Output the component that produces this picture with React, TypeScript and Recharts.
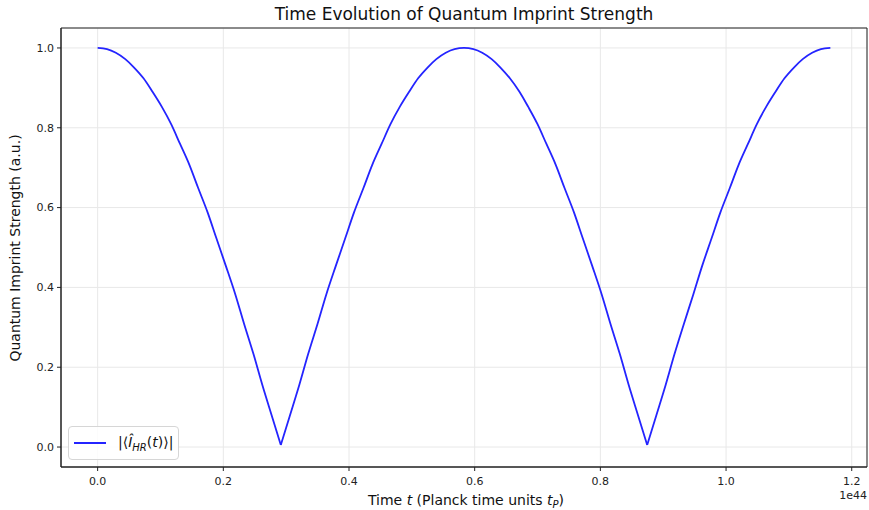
import {
  CartesianGrid,
  Line,
  LineChart,
  ReferenceArea,
  XAxis,
  YAxis,
} from 'recharts';

// time in units of 1e44 t_P
const times = [
  0, 0.015, 0.029, 0.044, 0.058, 0.073, 0.087, 0.102, 0.117, 0.131,
  0.146, 0.16, 0.175, 0.189, 0.204, 0.219, 0.233, 0.248, 0.262, 0.277,
  0.2915, 0.306, 0.321, 0.335, 0.35, 0.364, 0.379, 0.394, 0.408, 0.423,
  0.437, 0.452, 0.466, 0.481, 0.496, 0.51, 0.525, 0.539, 0.554, 0.568,
  0.583, 0.598, 0.612, 0.627, 0.641, 0.656, 0.671, 0.685, 0.7, 0.714,
  0.729, 0.743, 0.758, 0.772, 0.787, 0.802, 0.816, 0.831, 0.845, 0.86,
  0.8745, 0.889, 0.904, 0.918, 0.933, 0.948, 0.962, 0.977, 0.991, 1.006,
  1.02, 1.035, 1.049, 1.064, 1.079, 1.093, 1.108, 1.122, 1.137, 1.151,
  1.166,
];

const strength = [
  1.0, 0.997, 0.988, 0.972, 0.951, 0.924, 0.891, 0.853, 0.809, 0.76,
  0.707, 0.649, 0.588, 0.523, 0.454, 0.383, 0.309, 0.233, 0.156, 0.079,
  0.005, 0.079, 0.156, 0.233, 0.309, 0.383, 0.454, 0.523, 0.588, 0.649,
  0.707, 0.76, 0.809, 0.853, 0.891, 0.924, 0.951, 0.972, 0.988, 0.997,
  1.0, 0.997, 0.988, 0.972, 0.951, 0.924, 0.891, 0.853, 0.809, 0.76,
  0.707, 0.649, 0.588, 0.523, 0.454, 0.383, 0.309, 0.233, 0.156, 0.079,
  0.005, 0.079, 0.156, 0.233, 0.309, 0.383, 0.454, 0.523, 0.588, 0.649,
  0.707, 0.76, 0.809, 0.853, 0.891, 0.924, 0.951, 0.972, 0.988, 0.997,
  1.0,
];

// indices of the sharp minima, the curve is split there so smoothing keeps the cusp
const cusps = [20, 60];

const xTicks = [0, 0.2, 0.4, 0.6, 0.8, 1.0, 1.2];
const yTicks = [0, 0.2, 0.4, 0.6, 0.8, 1.0];

const data = times.map((t, i) => ({ t, v: strength[i] }));
const bounds = [0, ...cusps, data.length - 1];
const segments = bounds.slice(1).map((end, i) => data.slice(bounds[i], end + 1));

const FONT = '"DejaVu Sans", sans-serif';
const LINE = '#2424ff';
const AXIS = '#222';
const tickStyle = { fill: '#222', fontSize: 11, fontFamily: FONT };

export default function App() {
  return (
    <div style={{ position: 'absolute', left: 0, top: 0, width: 869, height: 510, background: '#fff' }}>
      <LineChart
        width={869}
        height={510}
        margin={{ top: 28, right: 2, bottom: 0, left: 0 }}
      >
        <CartesianGrid stroke="#e8e8e8" strokeWidth={1} />
        <XAxis
          dataKey="t"
          type="number"
          domain={[-0.0583, 1.2243]}
          ticks={xTicks}
          allowDataOverflow
          height={43}
          tickFormatter={(v: number) => v.toFixed(1)}
          tick={tickStyle}
          tickSize={4}
          tickMargin={6}
          axisLine={{ stroke: AXIS }}
          tickLine={{ stroke: AXIS }}
        />
        <YAxis
          type="number"
          domain={[-0.05, 1.05]}
          ticks={yTicks}
          allowDataOverflow
          width={61}
          tickFormatter={(v: number) => v.toFixed(1)}
          tick={tickStyle}
          tickSize={4}
          tickMargin={3}
          axisLine={{ stroke: AXIS }}
          tickLine={{ stroke: AXIS }}
        />
        <ReferenceArea
          x1={-0.0583}
          x2={1.2243}
          y1={-0.05}
          y2={1.05}
          fill="none"
          stroke={AXIS}
          strokeWidth={1}
          ifOverflow="visible"
        />
        {segments.map((seg, i) => (
          <Line
            key={i}
            data={seg}
            type="monotone"
            dataKey="v"
            stroke={LINE}
            strokeWidth={1.8}
            dot={false}
            isAnimationActive={false}
          />
        ))}
      </LineChart>
      <div
        style={{
          position: 'absolute',
          left: 68,
          top: 426,
          width: 111,
          height: 34,
          boxSizing: 'border-box',
          border: '1px solid #d6d6d6',
          borderRadius: 4,
          background: 'rgba(255,255,255,0.85)',
          display: 'flex',
          alignItems: 'center',
          fontFamily: FONT,
          fontSize: 14,
          color: '#111',
        }}
      >
        <span style={{ display: 'inline-block', width: 32, height: 2, background: LINE, marginLeft: 5, marginRight: 12 }} />
        <span style={{ whiteSpace: 'nowrap' }}>
          |⟨<i>Î</i>
          <sub style={{ fontSize: 10, fontStyle: 'italic' }}>HR</sub>(<i>t</i>)⟩|
        </span>
      </div>
      <svg
        width={869}
        height={510}
        style={{ position: 'absolute', left: 0, top: 0, pointerEvents: 'none' }}
        fontFamily={FONT}
      >
        <text x={464} y={20} textAnchor="middle" fontSize={17} fill="#111">
          Time Evolution of Quantum Imprint Strength
        </text>
        <text x={466} y={505} textAnchor="middle" fontSize={14} fill="#111">
          Time <tspan fontStyle="italic">t</tspan> (Planck time units <tspan fontStyle="italic">t</tspan>
          <tspan fontSize={10} fontStyle="italic" dy={3}>P</tspan>
          <tspan dy={-3}>)</tspan>
        </text>
        <text
          transform="translate(20,248) rotate(-90)"
          textAnchor="middle"
          fontSize={14}
          fill="#111"
        >
          Quantum Imprint Strength (a.u.)
        </text>
        <text x={867} y={499} textAnchor="end" fontSize={11} fill="#222">
          1e44
        </text>
      </svg>
    </div>
  );
}
